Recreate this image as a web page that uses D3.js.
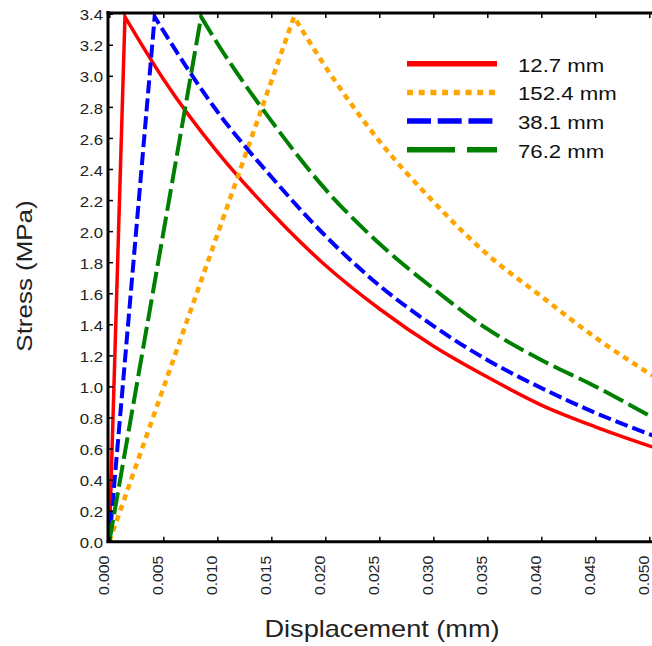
<!DOCTYPE html>
<html>
<head>
<meta charset="utf-8">
<script src="https://cdn.jsdelivr.net/npm/d3@7"></script>
<style>
    body { margin: 0; background: #fff; }
    svg { display: block; font-family: "Liberation Sans", Arial, sans-serif; }
</style>
</head>
<body>
<svg id="chart" width="652" height="646"></svg>
<script>
// series names, as in the legend
var labels = ["12.7 mm", "152.4 mm", "38.1 mm", "76.2 mm"];

// [displacement (mm), stress (MPa)]
var s127 = [[0, 0], [0.00145, 3.38], [0.005, 2.98], [0.010, 2.51], [0.015, 2.12], [0.020, 1.78],
    [0.025, 1.50], [0.030, 1.26], [0.035, 1.06], [0.040, 0.88], [0.045, 0.74], [0.0503, 0.61]];
var s1524 = [[0, 0], [0.0171, 3.38], [0.020, 3.06], [0.025, 2.58], [0.030, 2.19], [0.035, 1.85],
    [0.040, 1.58], [0.045, 1.315], [0.0503, 1.07]];
var s381 = [[0, 0], [0.0042, 3.38], [0.005, 3.29], [0.010, 2.77], [0.015, 2.35], [0.020, 1.97],
    [0.025, 1.65], [0.030, 1.39], [0.035, 1.17], [0.040, 0.99], [0.045, 0.83], [0.0503, 0.685]];
var s762 = [[0, 0], [0.0085, 3.38], [0.010, 3.21], [0.015, 2.71], [0.020, 2.27], [0.025, 1.92],
    [0.030, 1.63], [0.035, 1.37], [0.040, 1.17], [0.045, 1.00], [0.0503, 0.80]];

// axis ticks
var xTicks = [0, 0.005, 0.010, 0.015, 0.020, 0.025, 0.030, 0.035, 0.040, 0.045, 0.050];
var yTicks = [0, 0.2, 0.4, 0.6, 0.8, 1.0, 1.2, 1.4, 1.6, 1.8, 2.0, 2.2, 2.4, 2.6, 2.8, 3.0, 3.2, 3.4];

window.onload = function()
{
    main();
};

function main()
{
    var svg = d3.select("#chart"),
        x = d3.scaleLinear().domain([0, 0.05]).range([109.3, 649.3]),
        y = d3.scaleLinear().domain([0, 3.4]).range([541.7, 13.7]),
        // look of every series: curve style and legend style
        styles = [
            { data: s127, color: "#ff0000", width: 3.5, dash: null, legDash: null },
            { data: s1524, color: "#ffa500", width: 4.5, dash: "6,5", legDash: "6,5.7" },
            { data: s381, color: "#0000ff", width: 4, dash: "13,5", legDash: "24,6.7" },
            { data: s762, color: "#008000", width: 4, dash: "22,6", legDash: "48,12" }
        ];

    _drawCurves(svg, x, y, styles);
    _drawAxes(svg, x, y);
    _drawLegend(svg, styles);
}

// straight rise to the peak, smooth decay after it, as one path so dashes run on
function _curvePath(x, y, data)
{
    var rise = d3.line().x(function(d) { return x(d[0]); }).y(function(d) { return y(d[1]); }),
        decay = d3.line().x(function(d) { return x(d[0]); }).y(function(d) { return y(d[1]); })
            .curve(d3.curveMonotoneX),
        a = rise(data.slice(0, 2)),
        b = decay(data.slice(1));
    return a + b.replace(/^M[^A-Za-z]*/, "");
}

function _drawCurves(svg, x, y, styles)
{
    svg.append("g").selectAll("path")
        .data(styles)
        .enter().append("path")
        .attr("d", function(s) { return _curvePath(x, y, s.data); })
        .attr("fill", "none")
        .attr("stroke", function(s) { return s.color; })
        .attr("stroke-width", function(s) { return s.width; })
        .attr("stroke-dasharray", function(s) { return s.dash; })
        .attr("stroke-linejoin", "miter");
}

function _styleAxis(g)
{
    g.select(".domain").attr("stroke", "#000").attr("stroke-width", 3);
    g.selectAll(".tick line").attr("stroke", "#000").attr("stroke-width", 1.5);
}

function _drawAxes(svg, x, y)
{
    // bottom axis, ticks pointing inside, labels turned upright
    var bottom = svg.append("g")
        .attr("transform", "translate(0,541.7)")
        .call(d3.axisBottom(x).tickValues(xTicks).tickSizeInner(-5).tickSizeOuter(0)
            .tickFormat(d3.format(".3f")));
    _styleAxis(bottom);
    bottom.selectAll(".tick text")
        .attr("x", null).attr("y", null).attr("dy", null)
        .attr("text-anchor", "end")
        .attr("dominant-baseline", "central")
        .attr("transform", "translate(-6,14) rotate(-90) scale(1.05,1)")
        .style("font-size", "15px")
        .attr("fill", "#222");

    // top axis, just a line with ticks
    var top = svg.append("g")
        .attr("transform", "translate(0,13)")
        .call(d3.axisTop(x).tickValues(xTicks).tickSizeInner(-5).tickSizeOuter(0).tickFormat(""));
    _styleAxis(top);

    // left axis
    var left = svg.append("g")
        .attr("transform", "translate(108,0)")
        .call(d3.axisLeft(y).tickValues(yTicks).tickSizeInner(-5).tickSizeOuter(0)
            .tickFormat(d3.format(".1f")));
    _styleAxis(left);
    left.select(".domain").attr("d", "M0,11V543");
    left.selectAll(".tick text")
        .attr("x", null).attr("dy", null)
        .attr("text-anchor", "end")
        .attr("dominant-baseline", "central")
        .attr("transform", "translate(-5,1) scale(1.12,1)")
        .style("font-size", "15px")
        .attr("fill", "#222");
    bottom.select(".domain").attr("d", "M106.5,0H652");
    top.select(".domain").attr("d", "M106.5,0H652");

    // axis titles
    svg.append("text")
        .attr("transform", "translate(32,276) rotate(-90) scale(1.18,1)")
        .attr("text-anchor", "middle")
        .style("font-size", "22px")
        .attr("fill", "#222")
        .text("Stress (MPa)");
    svg.append("text")
        .attr("transform", "translate(382,637) scale(1.18,1)")
        .attr("text-anchor", "middle")
        .style("font-size", "23px")
        .attr("fill", "#222")
        .text("Displacement (mm)");
}

function _drawLegend(svg, styles)
{
    var rows = svg.append("g").selectAll("g")
        .data(styles)
        .enter().append("g")
        .attr("transform", function(s, i) { return "translate(0," + (71.7 + i * 28.7) + ")"; });

    rows.append("line")
        .attr("x1", 407).attr("x2", 497)
        .attr("y1", -8).attr("y2", -8)
        .attr("stroke", function(s) { return s.color; })
        .attr("stroke-width", 5.5)
        .attr("stroke-dasharray", function(s) { return s.legDash; });

    rows.append("text")
        .attr("transform", "translate(518,0) scale(1.2,1)")
        .style("font-size", "18.5px")
        .attr("fill", "#111")
        .text(function(s, i) { return labels[i]; });
}
</script>
</body>
</html>
